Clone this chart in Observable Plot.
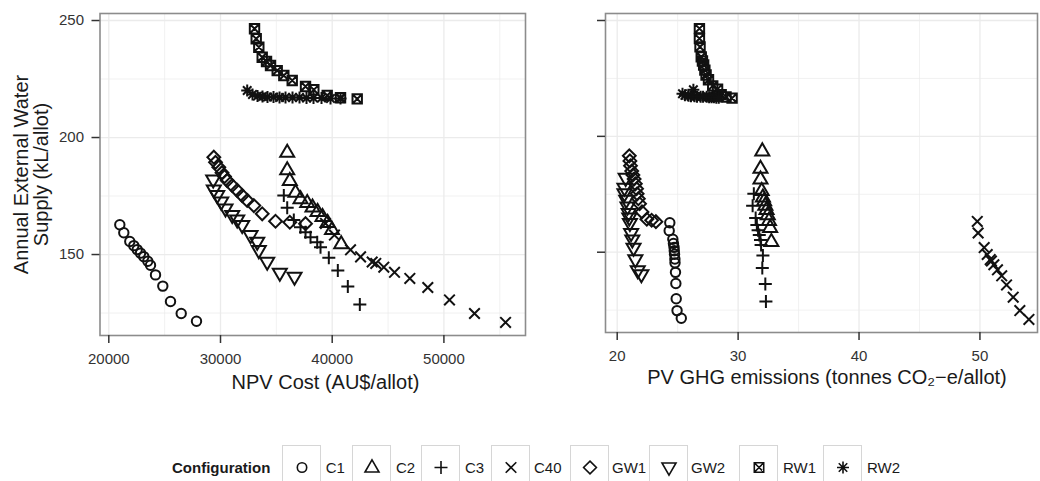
<!DOCTYPE html>
<html><head><meta charset="utf-8">
<script src="https://cdn.jsdelivr.net/npm/d3@7"></script>
<script src="https://cdn.jsdelivr.net/npm/@observablehq/plot@0.6"></script>
<style>
body{margin:0;background:#fff;font-family:"Liberation Sans",Arial,Helvetica,sans-serif;}
#wrap{position:relative;width:1040px;height:481px;overflow:hidden;background:#fff;}
#left{position:absolute;left:0;top:0;}
#right{position:absolute;left:540px;top:0;}
.lt{position:absolute;top:458px;height:20px;line-height:20px;font-size:15px;color:#1a1a1a;white-space:nowrap;}
.lt.b{font-weight:bold;}
.box{position:absolute;top:445px;width:37px;height:40px;border:1.5px solid #d6d6d6;background:#fff;}
.box svg{position:absolute;left:0;top:0;}
</style></head><body>
<div id="wrap"><div id="left"></div><div id="right"></div><div id="legend"></div></div>
<script>
// ---- data ----
const configs = ["C1","C2","C3","C40","GW1","GW2","RW1","RW2"];

const c1Water = [162.7,159.3,155.6,153.8,152.1,150.6,149.1,147.1,145.4,141.3,136.5,129.9,124.8,121.5];
const c1Cost  = [20985,21343,21880,22238,22543,22838,23133,23491,23733,24181,24834,25524,26482,27851];
const c1Ghg   = [24.35,24.3,24.6,24.65,24.7,24.72,24.74,24.77,24.78,24.82,24.85,24.88,24.95,25.3];

const c2Water = [193.7,186.2,181.6,176.6,173.8,172.2,170.3,168.4,166.2,163.7,160.7,154.6];
const c2Cost  = [35972,35972,36205,36715,37163,37763,38237,38685,39133,39580,39983,40807];
const c2Ghg   = [32.0,31.85,31.85,31.95,32.05,32.15,32.25,32.35,32.45,32.55,32.65,32.75];

const c3Water = [175.2,170.0,164.8,161.7,159.5,157.4,155.3,153.1,148.6,143.2,136.3,128.7];
const c3Cost  = [35668,35972,36563,37163,37611,38058,38658,38954,39697,40503,41398,42473];
const c3Ghg   = [31.3,31.2,31.45,31.55,31.65,31.75,31.85,31.9,32.05,32.0,32.25,32.3];

const c40Water = [163.3,158.3,152.0,149.0,146.8,146.2,144.6,142.4,139.8,135.9,130.6,124.8,121.0];
const c40Cost  = [39400,40200,41640,42540,43580,43900,44620,45580,46950,48560,50500,52740,55520];
const c40Ghg   = [49.78,49.85,50.35,50.6,50.85,50.95,51.15,51.45,51.8,52.2,52.75,53.3,54.05];

const gw1Water = [191.6,189.4,187.3,185.0,183.3,181.6,179.5,177.4,175.2,173.1,170.9,167.4,164.2,163.8,163.2];
const gw1Cost  = [29401,29553,29848,30135,30360,30600,31048,31496,31943,32391,32982,33734,34925,36205,37611];
const gw1Ghg   = [21.0,21.05,21.1,21.2,21.3,21.4,21.5,21.6,21.65,21.75,21.85,22.05,22.45,22.85,23.2];

const gw2Water = [181.9,177.6,175.2,172.4,169.5,166.7,164.8,162.4,158.1,155.3,151.7,146.7,142.0,140.3];
const gw2Cost  = [29347,29401,29705,30063,30448,31048,31496,31943,32686,33286,33429,34181,35310,36626];
const gw2Ghg   = [20.7,20.6,20.6,20.75,20.85,20.95,21.0,21.05,21.15,21.25,21.35,21.5,21.7,22.0];

const rw1Water = [246.5,242.2,238.6,234.3,232.5,230.8,228.6,226.5,224.4,221.8,220.4,218.0,217.0,216.5];
const rw1Cost  = [33045,33197,33430,33734,34120,34477,35077,35668,36420,37611,38354,39553,40744,42239];
const rw1Ghg   = [26.8,26.8,26.85,26.95,27.05,27.15,27.25,27.35,27.55,27.9,28.3,28.6,29.0,29.5];

const rw2Water = [220.1,218.4,217.7,217.5,217.3,217.3,217.1,217.1,217.1,217.1,216.9,216.9,216.9,216.7,216.7];
const rw2Cost  = [32391,32865,33313,33760,34208,34745,35283,35820,36447,37073,37700,38327,39043,39849,40744];
const rw2Ghg   = [26.3,25.4,25.6,25.9,26.1,26.4,26.6,26.9,27.1,27.4,27.6,27.8,28.0,28.2,28.4];

const costTicks = [20000,30000,40000,50000];
const costMinor = [25000,35000,45000,55000];
const ghgTicks = [20,30,40,50];
const ghgMinor = [25,35,45];
const waterTicks = [150,200,250];
const waterMinor = [125,175,225];

const xTitleLeft = "NPV Cost (AU$/allot)";
const xTitleRight = "PV GHG emissions (tonnes CO\u2082\u2212e/allot)";
const yTitle = ["Annual External Water", "Supply (kL/allot)"];
const legendTitle = "Configuration";

// ---- build rows ----
const series = [
  ["C1", c1Water, c1Cost, c1Ghg], ["C2", c2Water, c2Cost, c2Ghg],
  ["C3", c3Water, c3Cost, c3Ghg], ["C40", c40Water, c40Cost, c40Ghg],
  ["GW1", gw1Water, gw1Cost, gw1Ghg], ["GW2", gw2Water, gw2Cost, gw2Ghg],
  ["RW1", rw1Water, rw1Cost, rw1Ghg], ["RW2", rw2Water, rw2Cost, rw2Ghg]
];
const data = series.flatMap(([n, w, c, g]) => w.map((v, i) => ({config: n, water: v, cost: c[i], ghg: g[i]})));

// ---- symbols (ggplot shapes 1..8) ----
function shape(fn) { return {draw(ctx, size) { const k = Math.sqrt(size / Math.PI) / 5; fn(ctx, k); }}; }
const shapes = {
  C1: shape((c, k) => { const r = 4.7 * k; c.moveTo(r, 0); c.arc(0, 0, r, 0, 2 * Math.PI); c.closePath(); }),
  C2: shape((c, k) => { c.moveTo(0, -7.6 * k); c.lineTo(7 * k, 4.5 * k); c.lineTo(-7 * k, 4.5 * k); c.closePath(); }),
  C3: shape((c, k) => { const a = 6.5 * k; c.moveTo(-a, 0); c.lineTo(a, 0); c.moveTo(0, -a); c.lineTo(0, a); }),
  C40: shape((c, k) => { const a = 5.3 * k; c.moveTo(-a, -a); c.lineTo(a, a); c.moveTo(-a, a); c.lineTo(a, -a); }),
  GW1: shape((c, k) => { const a = 6.4 * k; c.moveTo(0, -a); c.lineTo(a, 0); c.lineTo(0, a); c.lineTo(-a, 0); c.closePath(); }),
  GW2: shape((c, k) => { c.moveTo(0, 7.6 * k); c.lineTo(7 * k, -4.5 * k); c.lineTo(-7 * k, -4.5 * k); c.closePath(); }),
  RW1: shape((c, k) => { const a = 4.7 * k; c.moveTo(-a, -a); c.lineTo(a, -a); c.lineTo(a, a); c.lineTo(-a, a); c.closePath();
                          c.moveTo(-a, -a); c.lineTo(a, a); c.moveTo(-a, a); c.lineTo(a, -a); }),
  RW2: shape((c, k) => { const a = 6 * k, b = a * Math.SQRT1_2; c.moveTo(-a, 0); c.lineTo(a, 0); c.moveTo(0, -a); c.lineTo(0, a);
                          c.moveTo(-b, -b); c.lineTo(b, b); c.moveTo(-b, b); c.lineTo(b, -b); })
};

const ink = "#111";
const gridCol = "#ebebeb";
const svgStyle = {fontFamily: "'Liberation Sans', Arial, Helvetica, sans-serif", fontSize: "15px", color: "#1a1a1a", background: "transparent", overflow: "visible"};

function dots(xField) {
  return configs.map(c => Plot.dot(data.filter(d => d.config === c),
    {x: xField, y: "water", symbol: shapes[c], r: 5, stroke: ink, strokeWidth: 2, fill: "none"}));
}

// ---- left panel ----
const left = Plot.plot({
  width: 540, height: 400,
  marginLeft: 99.5, marginRight: 15, marginTop: 13, marginBottom: 65,
  style: svgStyle,
  x: {domain: [19212, 57305], label: null},
  y: {domain: [115.4, 253], label: null},
  marks: [
    Plot.gridX(costMinor, {stroke: gridCol, strokeOpacity: 1, strokeWidth: 0.7}),
    Plot.gridY(waterMinor, {stroke: gridCol, strokeOpacity: 1, strokeWidth: 0.7}),
    Plot.gridX(costTicks, {stroke: gridCol, strokeOpacity: 1, strokeWidth: 1.3}),
    Plot.gridY(waterTicks, {stroke: gridCol, strokeOpacity: 1, strokeWidth: 1.3}),
    ...dots("cost"),
    Plot.frame({stroke: "#8c8c8c", strokeWidth: 1.6}),
    Plot.axisX(costTicks, {tickSize: 8, tickPadding: 10, stroke: "#333", strokeWidth: 1.5, fill: "#333", fontSize: 15, tickFormat: d => String(d), label: null}),
    Plot.axisY(waterTicks, {tickSize: 8, tickPadding: 8, stroke: "#333", strokeWidth: 1.5, fill: "#333", fontSize: 15, label: null}),
    Plot.text([xTitleLeft], {frameAnchor: "bottom", dx: 12.7, dy: 47, lineAnchor: "middle", fontSize: 20, fill: "#1a1a1a"}),
    Plot.text([yTitle[0]], {frameAnchor: "left", dx: -78.8, textAnchor: "middle", lineAnchor: "middle", rotate: -90, fontSize: 20, fill: "#1a1a1a"}),
    Plot.text([yTitle[1]], {frameAnchor: "left", dx: -58.8, textAnchor: "middle", lineAnchor: "middle", rotate: -90, fontSize: 20, fill: "#1a1a1a"})
  ]
});
document.getElementById("left").appendChild(left);

// ---- right panel ----
const right = Plot.plot({
  width: 500, height: 400,
  marginLeft: 65, marginRight: 3, marginTop: 13, marginBottom: 68,
  style: svgStyle,
  x: {domain: [19.032, 54.76], label: null},
  y: {domain: [115.35, 253.02], label: null},
  marks: [
    Plot.gridX(ghgMinor, {stroke: gridCol, strokeOpacity: 1, strokeWidth: 0.7}),
    Plot.gridY(waterMinor, {stroke: gridCol, strokeOpacity: 1, strokeWidth: 0.7}),
    Plot.gridX(ghgTicks, {stroke: gridCol, strokeOpacity: 1, strokeWidth: 1.3}),
    Plot.gridY(waterTicks, {stroke: gridCol, strokeOpacity: 1, strokeWidth: 1.3}),
    ...dots("ghg"),
    Plot.frame({stroke: "#8c8c8c", strokeWidth: 1.6}),
    Plot.axisX(ghgTicks, {tickSize: 8, tickPadding: 10, stroke: "#333", strokeWidth: 1.5, fill: "#333", fontSize: 15, label: null}),
    Plot.axisY(waterTicks, {tickSize: 8, stroke: "#333", strokeWidth: 1.5, fill: "none", label: null}),
    Plot.text([xTitleRight], {frameAnchor: "bottom", dx: 5.5, dy: 45, lineAnchor: "middle", fontSize: 20, fill: "#1a1a1a"})
  ]
});
document.getElementById("right").appendChild(right);

// ---- legend ----
const boxLeft = [281.7, 352, 420.7, 491, 570, 649, 739, 823];
const labelLeft = [325.7, 396, 465, 534, 612, 691, 783, 867];
const lg = d3.select("#legend");
lg.append("div").attr("class", "lt b").style("left", "172px").text(legendTitle);
configs.forEach((c, i) => {
  const box = lg.append("div").attr("class", "box").style("left", boxLeft[i] + "px");
  const svg = box.append("svg").attr("width", 38).attr("height", 40);
  const p = d3.path();
  shapes[c].draw(p, 25 * Math.PI);
  svg.append("path").attr("d", p.toString()).attr("transform", "translate(19,21.5)")
    .attr("fill", "none").attr("stroke", ink).attr("stroke-width", 1.6);
  lg.append("div").attr("class", "lt").style("left", labelLeft[i] + "px").text(c);
});
</script>
</body></html>
